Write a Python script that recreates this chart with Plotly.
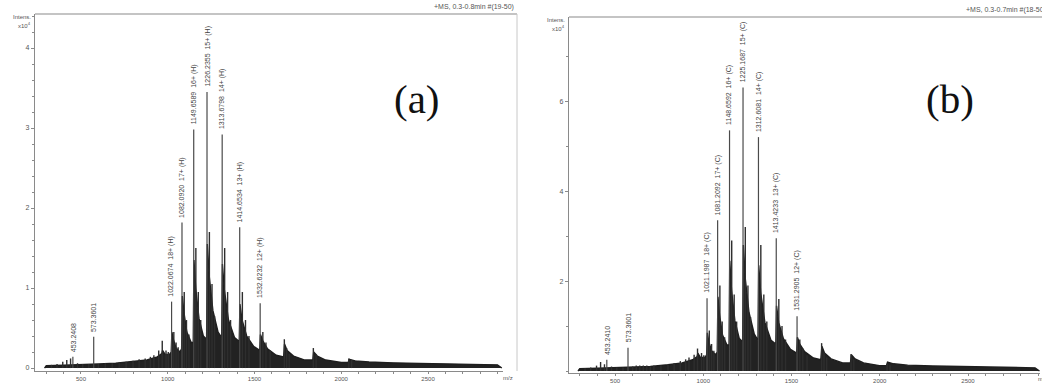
import plotly.graph_objects as go

# ---------------- Panel (a) data (intensity in units of 1e4) ----------------
mz_a_peaks = [453.2408, 573.3601, 1022.0674, 1082.0920, 1149.6589, 1226.2355, 1313.6798, 1414.6534, 1532.6232]
int_a_peaks = [0.14, 0.39, 0.83, 1.82, 2.98, 3.45, 2.92, 1.76, 0.81]
labels_a = ["453.2408", "573.3601", "1022.0674  18+ (H)", "1082.0920  17+ (H)", "1149.6589  16+ (H)",
            "1226.2355  15+ (H)", "1313.6798  14+ (H)", "1414.6534  13+ (H)", "1532.6232  12+ (H)"]

mz_a_minor = [330, 362, 395, 418, 440, 480, 510, 545, 600, 640, 680, 720, 760, 800, 835, 870, 900, 920, 948,
              968.3, 990, 1003, 1035, 1048, 1060, 1095, 1108, 1122, 1162, 1176, 1190, 1240, 1255, 1270, 1328,
              1345, 1362, 1430, 1448, 1468, 1548, 1566, 1590, 1671.9, 1685, 1700, 1839.1, 1855, 2043.5, 2060]
int_a_minor = [0.04, 0.05, 0.08, 0.1, 0.12, 0.06, 0.05, 0.05, 0.05, 0.06, 0.06, 0.07, 0.08, 0.09, 0.11, 0.12,
               0.14, 0.16, 0.22, 0.34, 0.22, 0.2, 0.45, 0.32, 0.26, 0.95, 0.6, 0.42, 1.5, 0.95, 0.6, 1.7, 1.05,
               0.65, 1.5, 0.95, 0.6, 0.95, 0.6, 0.4, 0.45, 0.32, 0.22, 0.36, 0.25, 0.18, 0.25, 0.17, 0.12, 0.1]

env_a_mz = [290, 300, 400, 500, 600, 700, 800, 880, 940, 966, 970, 985, 1010, 1020, 1024, 1032, 1048, 1070, 1080,
            1084, 1093, 1110, 1135, 1147, 1151, 1161, 1180, 1205, 1224, 1228, 1239, 1260, 1290, 1311, 1315, 1326,
            1350, 1385, 1412, 1416, 1428, 1455, 1495, 1530, 1534, 1548, 1575, 1625, 1668, 1673, 1688, 1725, 1790,
            1836, 1841, 1862, 1910, 2000, 2040, 2046, 2080, 2160, 2300, 2500, 2700, 2900, 2925]
env_a_int = [0, 0.03, 0.035, 0.04, 0.05, 0.06, 0.08, 0.1, 0.14, 0.18, 0.22, 0.17, 0.17, 0.2, 0.45, 0.36, 0.25, 0.2,
             0.24, 0.9, 0.7, 0.45, 0.32, 0.32, 1.35, 1.0, 0.62, 0.4, 0.36, 1.55, 1.15, 0.72, 0.45, 0.38, 1.3, 0.98,
             0.6, 0.38, 0.33, 0.8, 0.6, 0.4, 0.27, 0.22, 0.42, 0.34, 0.24, 0.16, 0.14, 0.3, 0.22, 0.15, 0.1, 0.1,
             0.2, 0.15, 0.1, 0.07, 0.07, 0.11, 0.09, 0.075, 0.065, 0.055, 0.045, 0.04, 0]

# ---------------- Panel (b) data (intensity in units of 1e4) ----------------
mz_b_peaks = [453.2410, 573.3601, 1021.1987, 1081.2092, 1148.6592, 1225.1687, 1312.6081, 1413.4233, 1531.2905]
int_b_peaks = [0.25, 0.52, 1.62, 3.35, 5.35, 6.3, 5.2, 2.95, 1.22]
labels_b = ["453.2410", "573.3601", "1021.1987  18+ (C)", "1081.2092  17+ (C)", "1148.6592  16+ (C)",
            "1225.1687  15+ (C)", "1312.6081  14+ (C)", "1413.4233  13+ (C)", "1531.2905  12+ (C)"]

mz_b_minor = [330, 362, 395, 418, 440, 480, 510, 545, 600, 620, 640, 660, 680, 700, 720, 760, 800, 835, 870, 900,
              919, 948, 967.3, 990, 1003, 1034, 1047, 1060, 1094, 1107, 1121, 1161, 1175, 1189, 1238, 1253, 1268,
              1326, 1343, 1360, 1428, 1446, 1466, 1547, 1564, 1588, 1670.5, 1684, 1699, 1837.5, 1853, 2041.5, 2058]
int_b_minor = [0.06, 0.08, 0.12, 0.2, 0.15, 0.1, 0.08, 0.08, 0.1, 0.12, 0.12, 0.12, 0.12, 0.1, 0.12, 0.13, 0.15,
               0.18, 0.22, 0.26, 0.3, 0.36, 0.5, 0.4, 0.35, 0.9, 0.6, 0.45, 1.9, 1.1, 0.75, 2.9, 1.7, 1.1, 3.2, 1.9,
               1.2, 2.8, 1.7, 1.1, 1.6, 1.0, 0.7, 0.7, 0.5, 0.35, 0.62, 0.42, 0.3, 0.38, 0.26, 0.16, 0.13]

env_b_mz = [290, 300, 400, 500, 600, 700, 800, 880, 940, 965, 969, 984, 1009, 1019, 1023, 1031, 1047, 1069, 1079,
            1083, 1092, 1109, 1134, 1146, 1150, 1160, 1179, 1204, 1223, 1227, 1238, 1259, 1289, 1310, 1314, 1325,
            1349, 1384, 1411, 1415, 1427, 1454, 1494, 1529, 1533, 1547, 1574, 1624, 1666, 1672, 1687, 1724, 1789,
            1834, 1839, 1860, 1908, 1998, 2038, 2044, 2078, 2158, 2300, 2500, 2700, 2880, 2905]
env_b_int = [0, 0.05, 0.06, 0.07, 0.08, 0.1, 0.14, 0.18, 0.25, 0.32, 0.4, 0.3, 0.3, 0.36, 0.85, 0.65, 0.45, 0.36,
             0.42, 1.65, 1.25, 0.8, 0.58, 0.58, 2.45, 1.8, 1.12, 0.72, 0.65, 2.8, 2.05, 1.3, 0.82, 0.68, 2.35, 1.75,
             1.08, 0.68, 0.6, 1.45, 1.08, 0.72, 0.48, 0.4, 0.75, 0.6, 0.43, 0.29, 0.25, 0.55, 0.4, 0.27, 0.18, 0.18,
             0.36, 0.27, 0.18, 0.12, 0.12, 0.2, 0.16, 0.13, 0.11, 0.1, 0.08, 0.07, 0]

# axis tick values
x_ticks = [500, 1000, 1500, 2000, 2500]
y_ticks_a = [0, 1, 2, 3, 4]
y_ticks_b = [2, 4, 6]

W, H = 1042, 383
FONT = "Arial, Liberation Sans, sans-serif"
INK = "#1e1e1e"
AXC = "#8a8a8a"
TXT = "#555555"


def px_x(p):
    return p / W


def px_y(p):
    return 1 - p / H


def sticks(mz, it):
    xs, ys = [], []
    for m, h in zip(mz, it):
        xs += [m, m, None]
        ys += [0, h, None]
    return xs, ys


fig = go.Figure()

for suffix, env_mz, env_int, mz_minor, int_minor, mz_pk, int_pk in [
    ("", env_a_mz, env_a_int, mz_a_minor, int_a_minor, mz_a_peaks, int_a_peaks),
    ("2", env_b_mz, env_b_int, mz_b_minor, int_b_minor, mz_b_peaks, int_b_peaks),
]:
    xa, ya = "x" + suffix, "y" + suffix
    fig.add_trace(go.Scatter(x=env_mz, y=env_int, mode="lines", fill="tozeroy",
                             fillcolor="#222222", line=dict(color=INK, width=1.4),
                             xaxis=xa, yaxis=ya, hoverinfo="skip", showlegend=False))
    sx, sy = sticks(mz_minor, int_minor)
    fig.add_trace(go.Scatter(x=sx, y=sy, mode="lines", line=dict(color="#2e2e2e", width=1.4),
                             xaxis=xa, yaxis=ya, hoverinfo="skip", showlegend=False))
    sx, sy = sticks(mz_pk, int_pk)
    fig.add_trace(go.Scatter(x=sx, y=sy, mode="lines", line=dict(color="#4a4a4a", width=1.2),
                             xaxis=xa, yaxis=ya, hoverinfo="skip", showlegend=False))

annotations = []
for xa, ya, mz, it, labs in [("x", "y", mz_a_peaks, int_a_peaks, labels_a),
                             ("x2", "y2", mz_b_peaks, int_b_peaks, labels_b)]:
    for m, h, t in zip(mz, it, labs):
        annotations.append(dict(x=m, y=h, xref=xa, yref=ya, text=t, textangle=-90, showarrow=False,
                                xanchor="center", yanchor="bottom", yshift=3,
                                font=dict(family=FONT, size=7, color="#444444")))

# panel letters
annotations.append(dict(x=px_x(417), y=px_y(99), xref="paper", yref="paper", text="(a)", showarrow=False,
                        xanchor="center", yanchor="middle",
                        font=dict(family="Liberation Serif, Times New Roman, serif", size=41, color="#111111")))
annotations.append(dict(x=px_x(950), y=px_y(99), xref="paper", yref="paper", text="(b)", showarrow=False,
                        xanchor="center", yanchor="middle",
                        font=dict(family="Liberation Serif, Times New Roman, serif", size=41, color="#111111")))

# header texts
annotations.append(dict(x=px_x(516), y=px_y(7), xref="paper", yref="paper", text="+MS, 0.3-0.8min #(19-50)",
                        showarrow=False, xanchor="right", yanchor="middle",
                        font=dict(family=FONT, size=7, color=TXT)))
annotations.append(dict(x=px_x(964), y=px_y(10), xref="paper", yref="paper", text="+MS, 0.3-0.7min #(18-50)",
                        showarrow=False, xanchor="left", yanchor="middle",
                        font=dict(family=FONT, size=7, color=TXT)))
for xr, y1, y2 in [(33, 17, 25), (567, 20, 28)]:
    annotations.append(dict(x=px_x(xr), y=px_y(y1), xref="paper", yref="paper", text="Intens.",
                            showarrow=False, xanchor="right", yanchor="middle",
                            font=dict(family=FONT, size=6, color=TXT)))
    annotations.append(dict(x=px_x(xr), y=px_y(y2), xref="paper", yref="paper", text="x10<sup>4</sup>",
                            showarrow=False, xanchor="right", yanchor="middle",
                            font=dict(family=FONT, size=6, color=TXT)))
annotations.append(dict(x=px_x(508), y=px_y(378), xref="paper", yref="paper", text="m/z",
                        showarrow=False, xanchor="center", yanchor="middle",
                        font=dict(family=FONT, size=6, color=TXT)))
annotations.append(dict(x=px_x(1036), y=px_y(379), xref="paper", yref="paper", text="m/z",
                        showarrow=False, xanchor="left", yanchor="middle",
                        font=dict(family=FONT, size=6, color=TXT)))

shapes = [
    # panel (a) frame: top and right
    dict(type="line", xref="paper", yref="paper", x0=px_x(35), x1=px_x(517), y0=px_y(14), y1=px_y(14),
         line=dict(color=AXC, width=1.2)),
    dict(type="line", xref="paper", yref="paper", x0=px_x(517), x1=px_x(517), y0=px_y(14), y1=px_y(371),
         line=dict(color="#c8c8c8", width=1)),
    # panel (b) frame: top
    dict(type="line", xref="paper", yref="paper", x0=px_x(569), x1=px_x(1042), y0=px_y(17), y1=px_y(17),
         line=dict(color=AXC, width=1.2)),
]

axis_common = dict(showline=True, linecolor=AXC, linewidth=1.2, ticks="outside", tickcolor=AXC,
                   tickwidth=1, showgrid=False, zeroline=False)
xfont = dict(family=FONT, size=6, color=TXT)
yfont = dict(family=FONT, size=7, color=TXT)

fig.update_layout(
    width=W, height=H, margin=dict(l=0, r=0, t=0, b=0),
    paper_bgcolor="white", plot_bgcolor="white", showlegend=False,
    xaxis=dict(domain=[px_x(35), px_x(503)], range=[235, 2932], anchor="y", tickvals=x_ticks, ticklen=2,
               tickfont=xfont,
               minor=dict(dtick=100, tick0=0, ticks="outside", ticklen=2, tickcolor=AXC), **axis_common),
    yaxis=dict(domain=[px_y(371), px_y(14)], range=[-0.037, 4.425], anchor="x", tickvals=y_ticks_a, ticklen=3,
               tickfont=yfont,
               minor=dict(dtick=0.2, tick0=0, ticks="outside", ticklen=2, tickcolor=AXC), **axis_common),
    xaxis2=dict(domain=[px_x(569), px_x(1040)], range=[239, 2908], anchor="y2", tickvals=x_ticks, ticklen=2,
                tickfont=xfont,
                minor=dict(dtick=100, tick0=0, ticks="outside", ticklen=2, tickcolor=AXC), **axis_common),
    yaxis2=dict(domain=[px_y(373), px_y(17)], range=[-0.044, 7.87], anchor="x2", tickvals=y_ticks_b, ticklen=3,
                tickfont=yfont,
                minor=dict(dtick=1, tick0=0, ticks="outside", ticklen=2, tickcolor=AXC), **axis_common),
    annotations=annotations, shapes=shapes,
)

fig.write_html("out.html", config={"displayModeBar": False},
               post_script="document.body.style.margin='0';document.body.style.overflow='hidden';")
